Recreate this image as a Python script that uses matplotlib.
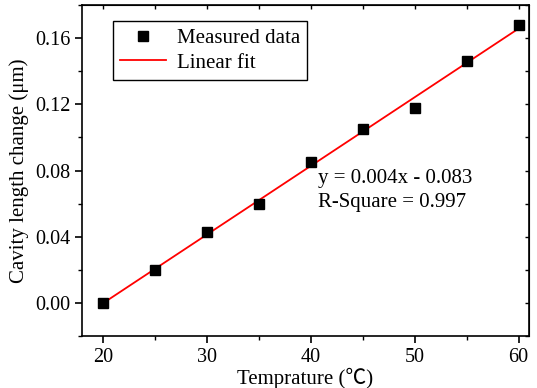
import matplotlib
matplotlib.use("Agg")
import matplotlib.pyplot as plt
import numpy as np
from matplotlib.ticker import MultipleLocator

plt.rcParams['font.family'] = ['Liberation Serif', 'Noto Sans CJK SC']
plt.rcParams['font.size'] = 15

# 测量数据
temperature = [20, 25, 30, 35, 40, 45, 50, 55, 60]
cavity_change = [0.000, 0.020, 0.043, 0.060, 0.085, 0.105, 0.118, 0.146, 0.168]

# 线性拟合
k, b = np.polyfit(temperature, cavity_change, 1)
fit_x = np.array([20, 60])
fit_y = k * fit_x + b

fig = plt.figure(figsize=(5.37, 3.88), dpi=100)
ax = fig.add_axes([0.153, 0.134, 0.832, 0.853])

ax.plot(temperature, cavity_change, 's', color='black', markersize=7, label='Measured data', zorder=3)
ax.plot(fit_x, fit_y, '-', color='red', linewidth=1.3, label='Linear fit', zorder=2)

ax.set_xlim(18, 61)
ax.set_ylim(-0.02, 0.18)
ax.xaxis.set_major_locator(MultipleLocator(10))
ax.xaxis.set_minor_locator(MultipleLocator(5))
ax.yaxis.set_minor_locator(MultipleLocator(0.02))
ax.set_yticks([0.00, 0.04, 0.08, 0.12, 0.16])
ax.set_yticklabels(['0.00', '0.04', '0.08', '0.12', '0.16'])

for s in ax.spines.values():
    s.set_linewidth(1.2)
ax.tick_params(which='major', direction='out', length=5, width=1.2, top=False, right=False,
               labelsize=14.5)
ax.tick_params(which='minor', direction='out', length=3, width=1.0, top=False, right=False)

# 上、右两侧的内向刻度
top = ax.secondary_xaxis('top')
top.xaxis.set_major_locator(MultipleLocator(5))
top.tick_params(direction='in', length=3, width=1.0, labeltop=False)
right = ax.secondary_yaxis('right')
right.yaxis.set_major_locator(MultipleLocator(0.02))
right.tick_params(direction='in', length=3, width=1.0, labelright=False)

ax.set_xlabel('Temprature (℃)', labelpad=1)
ax.set_ylabel('Cavity length change (μm)', labelpad=4)

ax.text(0.528, 0.462, 'y = 0.004x - 0.083', transform=ax.transAxes, va='baseline')
ax.text(0.528, 0.390, 'R-Square = 0.997', transform=ax.transAxes, va='baseline')

leg = ax.legend(loc='upper left', bbox_to_anchor=(0.069, 0.952), borderaxespad=0,
                fancybox=False, edgecolor='black', framealpha=1, borderpad=0.35,
                labelspacing=0.25, handlelength=2.2, handletextpad=0.5)
leg.get_frame().set_linewidth(1.0)

fig.savefig('out.png', dpi=100)
